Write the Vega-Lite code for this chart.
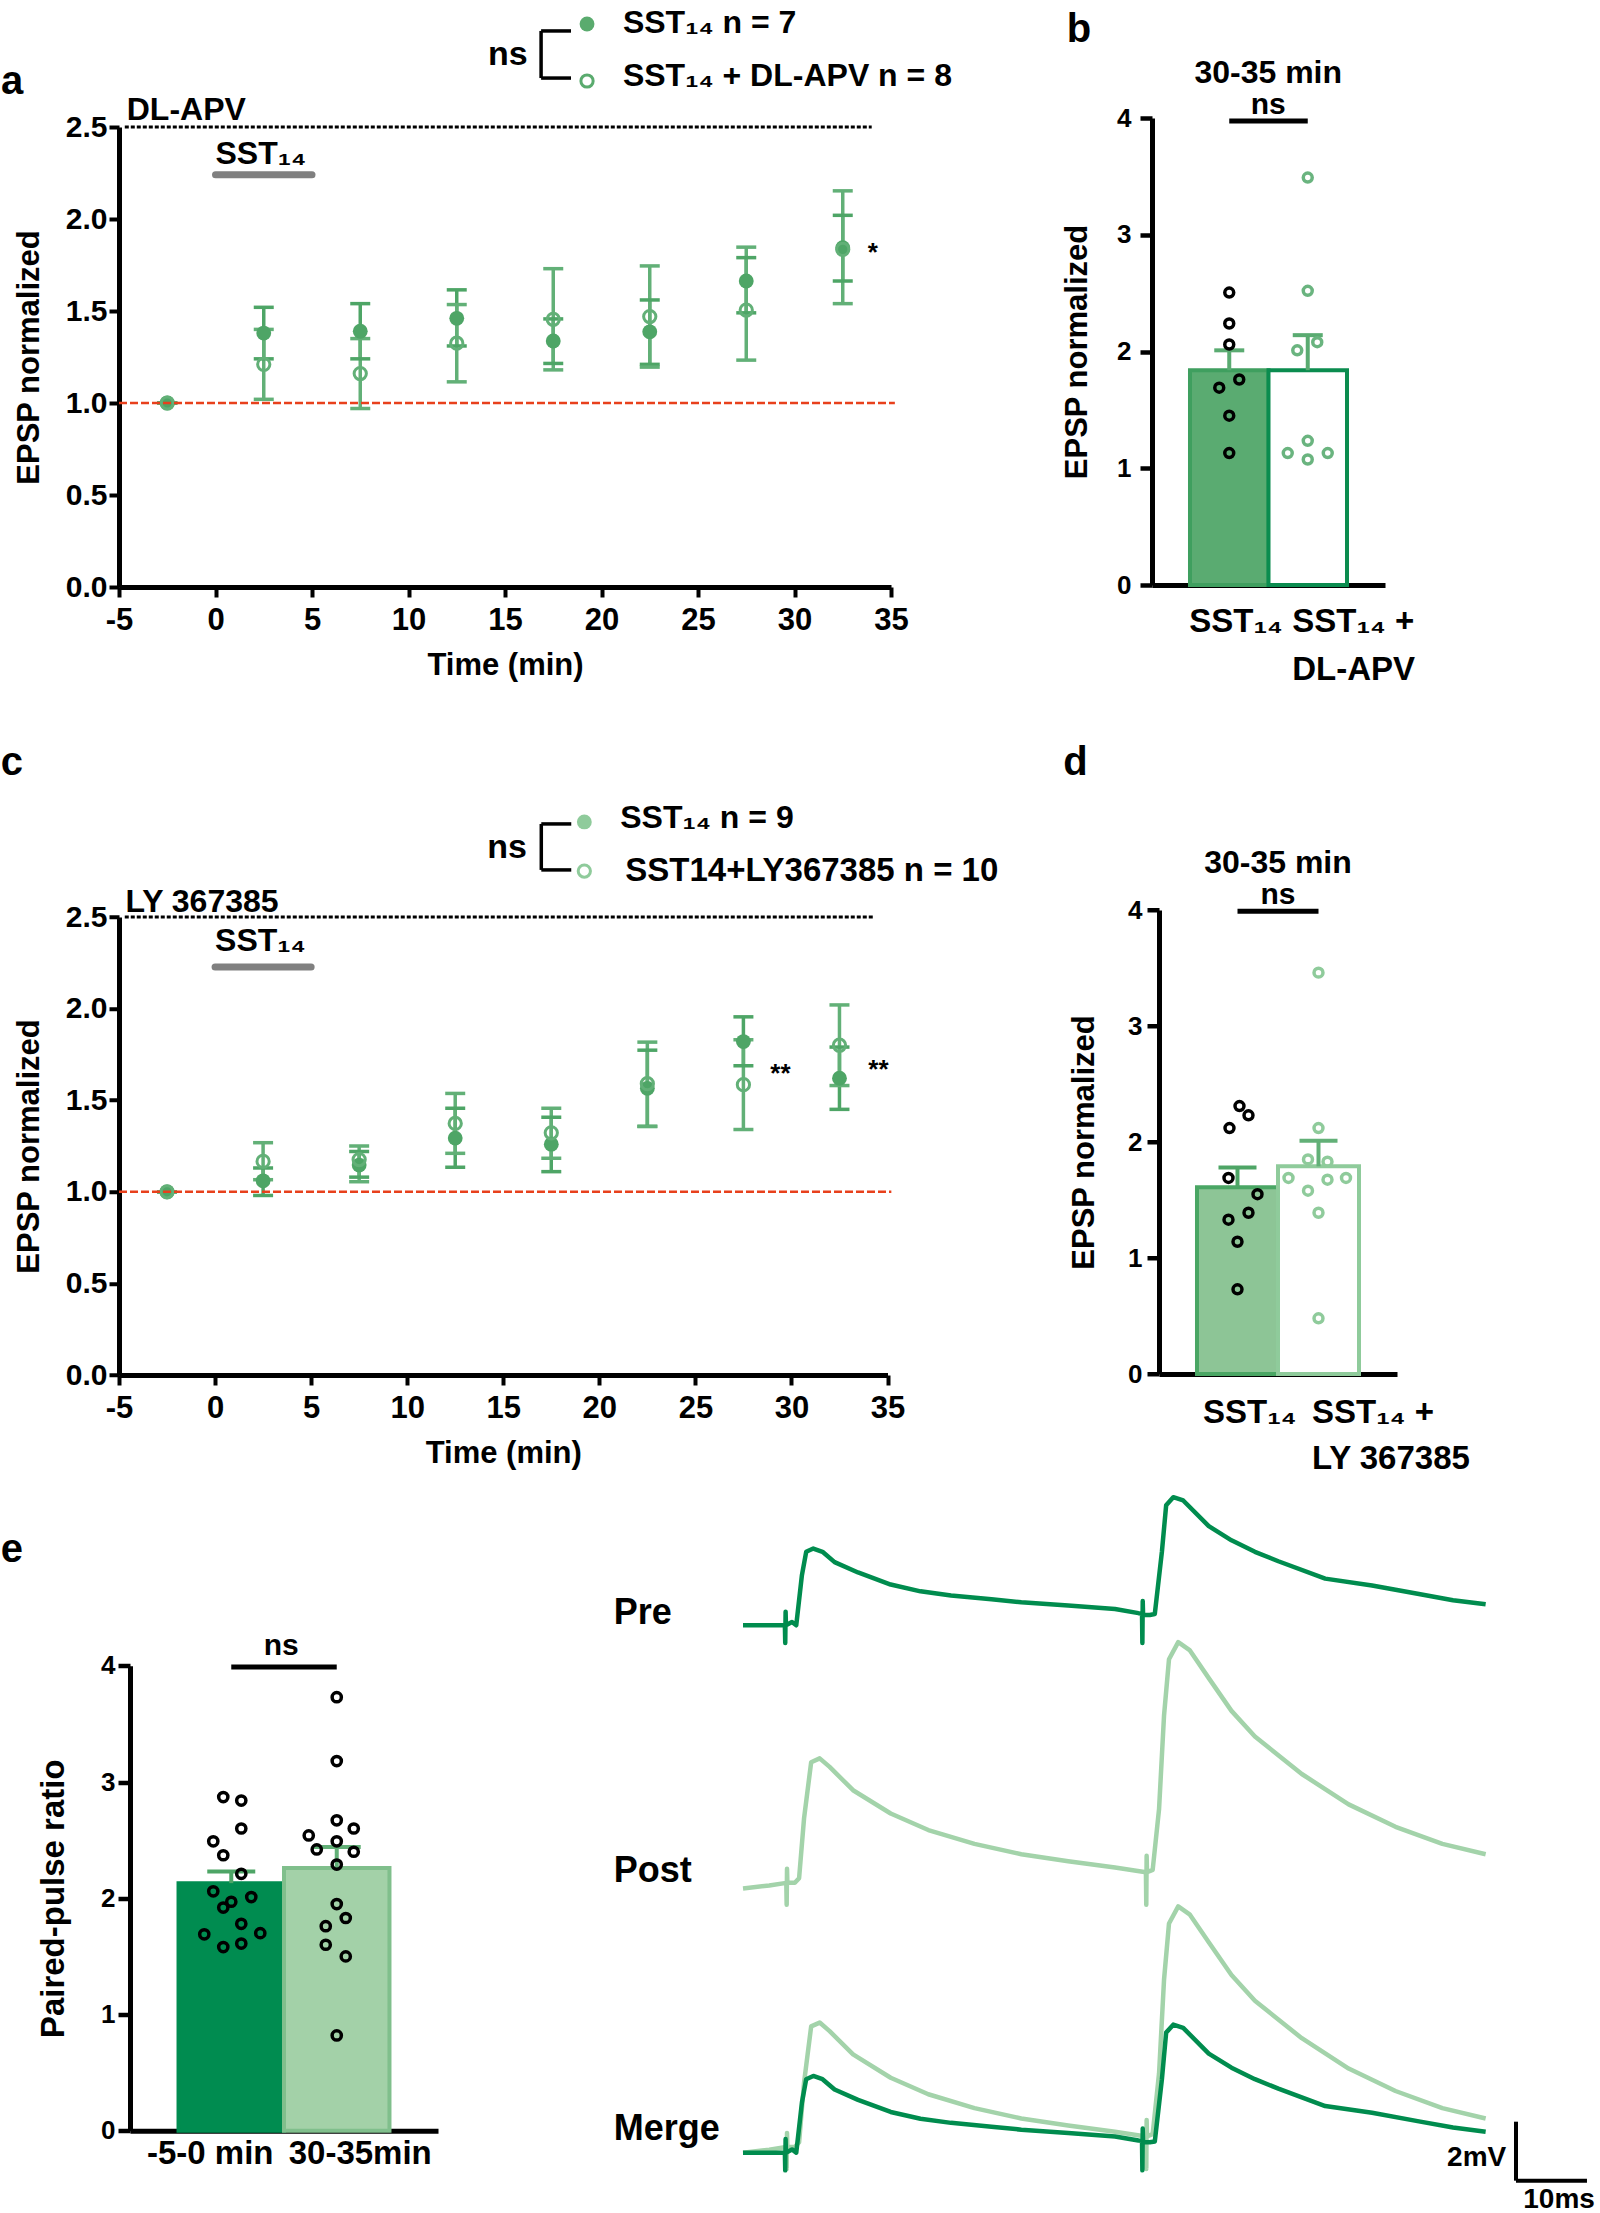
{
  "$schema": "https://vega.github.io/schema/vega-lite/v6.json",
  "background": "white",
  "padding": {"left": 0, "top": 6, "right": 0, "bottom": 0},
  "config": {
    "font": "Liberation Sans",
    "view": {"stroke": null},
    "axis": {"labelFont": "Liberation Sans", "titleFont": "Liberation Sans", "labelFontWeight": "bold", "titleFontWeight": "bold", "labelColor": "black", "titleColor": "black", "domainColor": "black", "tickColor": "black", "grid": false},
    "text": {"font": "Liberation Sans", "fontWeight": "bold", "color": "black"}
  },
  "datasets": {
    "a_ts": [
      {"t": -2.5, "g": "f", "m": 1.0, "lo": 1.0, "hi": 1.0},
      {"t": -2.5, "g": "o", "m": 1.0, "lo": 1.0, "hi": 1.0},
      {"t": 2.5, "g": "f", "m": 1.38, "lo": 1.24, "hi": 1.52},
      {"t": 2.5, "g": "o", "m": 1.21, "lo": 1.02, "hi": 1.40},
      {"t": 7.5, "g": "f", "m": 1.39, "lo": 1.24, "hi": 1.54},
      {"t": 7.5, "g": "o", "m": 1.16, "lo": 0.97, "hi": 1.35},
      {"t": 12.5, "g": "f", "m": 1.46, "lo": 1.31, "hi": 1.615},
      {"t": 12.5, "g": "o", "m": 1.325, "lo": 1.115, "hi": 1.535},
      {"t": 17.5, "g": "f", "m": 1.337, "lo": 1.215, "hi": 1.457},
      {"t": 17.5, "g": "o", "m": 1.455, "lo": 1.18, "hi": 1.73},
      {"t": 22.5, "g": "f", "m": 1.387, "lo": 1.21, "hi": 1.56},
      {"t": 22.5, "g": "o", "m": 1.47, "lo": 1.195, "hi": 1.745},
      {"t": 27.5, "g": "f", "m": 1.663, "lo": 1.49, "hi": 1.79},
      {"t": 27.5, "g": "o", "m": 1.505, "lo": 1.233, "hi": 1.847},
      {"t": 32.5, "g": "f", "m": 1.844, "lo": 1.663, "hi": 2.02},
      {"t": 32.5, "g": "o", "m": 1.835, "lo": 1.54, "hi": 2.153}
    ],
    "c_ts": [
      {"t": -2.5, "g": "f", "m": 1.0, "lo": 1.0, "hi": 1.0},
      {"t": -2.5, "g": "o", "m": 1.0, "lo": 1.0, "hi": 1.0},
      {"t": 2.5, "g": "f", "m": 1.06, "lo": 0.98, "hi": 1.13},
      {"t": 2.5, "g": "o", "m": 1.166, "lo": 1.066, "hi": 1.268},
      {"t": 7.5, "g": "f", "m": 1.146, "lo": 1.08, "hi": 1.22},
      {"t": 7.5, "g": "o", "m": 1.176, "lo": 1.055, "hi": 1.25},
      {"t": 12.5, "g": "f", "m": 1.293, "lo": 1.134, "hi": 1.456},
      {"t": 12.5, "g": "o", "m": 1.373, "lo": 1.21, "hi": 1.537},
      {"t": 17.5, "g": "f", "m": 1.26, "lo": 1.11, "hi": 1.407},
      {"t": 17.5, "g": "o", "m": 1.322, "lo": 1.183, "hi": 1.456},
      {"t": 22.5, "g": "f", "m": 1.565, "lo": 1.357, "hi": 1.773},
      {"t": 22.5, "g": "o", "m": 1.59, "lo": 1.357, "hi": 1.817},
      {"t": 27.5, "g": "f", "m": 1.82, "lo": 1.688, "hi": 1.955},
      {"t": 27.5, "g": "o", "m": 1.585, "lo": 1.34, "hi": 1.83},
      {"t": 32.5, "g": "f", "m": 1.62, "lo": 1.45, "hi": 1.79},
      {"t": 32.5, "g": "o", "m": 1.80, "lo": 1.58, "hi": 2.02}
    ],
    "b_bar": [{"cat": "b1", "m": 1.84, "hi": 2.01}, {"cat": "b2", "m": 1.84, "hi": 2.14}],
    "b_pts": [
      {"cat": "b1", "v": 2.505, "j": 0}, {"cat": "b1", "v": 2.24, "j": 0}, {"cat": "b1", "v": 2.06, "j": 0},
      {"cat": "b1", "v": 1.76, "j": 1}, {"cat": "b1", "v": 1.69, "j": -1}, {"cat": "b1", "v": 1.45, "j": 0},
      {"cat": "b1", "v": 1.13, "j": 0},
      {"cat": "b2", "v": 3.49, "j": 0}, {"cat": "b2", "v": 2.52, "j": 0}, {"cat": "b2", "v": 2.08, "j": 0.95},
      {"cat": "b2", "v": 2.01, "j": -1.05}, {"cat": "b2", "v": 1.235, "j": 0}, {"cat": "b2", "v": 1.13, "j": -2},
      {"cat": "b2", "v": 1.13, "j": 2}, {"cat": "b2", "v": 1.075, "j": 0}
    ],
    "d_bar": [{"cat": "d1", "m": 1.61, "hi": 1.78}, {"cat": "d2", "m": 1.79, "hi": 2.01}],
    "d_pts": [
      {"cat": "d1", "v": 2.31, "j": 0.2}, {"cat": "d1", "v": 2.23, "j": 1.1}, {"cat": "d1", "v": 2.12, "j": -0.8},
      {"cat": "d1", "v": 1.69, "j": -0.9}, {"cat": "d1", "v": 1.55, "j": 2.0}, {"cat": "d1", "v": 1.39, "j": 1.1},
      {"cat": "d1", "v": 1.33, "j": -0.9}, {"cat": "d1", "v": 1.14, "j": 0}, {"cat": "d1", "v": 0.73, "j": 0},
      {"cat": "d2", "v": 3.46, "j": 0}, {"cat": "d2", "v": 2.12, "j": 0}, {"cat": "d2", "v": 1.85, "j": -1.05},
      {"cat": "d2", "v": 1.83, "j": 0.9}, {"cat": "d2", "v": 1.69, "j": -3.0}, {"cat": "d2", "v": 1.69, "j": 2.75},
      {"cat": "d2", "v": 1.675, "j": 0.9}, {"cat": "d2", "v": 1.58, "j": -1.05}, {"cat": "d2", "v": 1.39, "j": 0},
      {"cat": "d2", "v": 0.48, "j": 0}
    ],
    "e_bar": [{"cat": "e1", "m": 2.13, "hi": 2.23}, {"cat": "e2", "m": 2.26, "hi": 2.44}],
    "e_pts": [
      {"cat": "e1", "v": 2.87, "j": -0.8}, {"cat": "e1", "v": 2.84, "j": 1.0}, {"cat": "e1", "v": 2.60, "j": 1.0},
      {"cat": "e1", "v": 2.49, "j": -1.8}, {"cat": "e1", "v": 2.37, "j": -0.8}, {"cat": "e1", "v": 2.21, "j": 1.0},
      {"cat": "e1", "v": 2.06, "j": -1.8}, {"cat": "e1", "v": 2.01, "j": 2.0}, {"cat": "e1", "v": 1.97, "j": 0},
      {"cat": "e1", "v": 1.92, "j": -0.8}, {"cat": "e1", "v": 1.78, "j": 1.0}, {"cat": "e1", "v": 1.69, "j": -2.7},
      {"cat": "e1", "v": 1.70, "j": 2.9}, {"cat": "e1", "v": 1.58, "j": -0.8}, {"cat": "e1", "v": 1.61, "j": 1.0},
      {"cat": "e2", "v": 3.73, "j": 0}, {"cat": "e2", "v": 3.18, "j": 0}, {"cat": "e2", "v": 2.67, "j": 0},
      {"cat": "e2", "v": 2.54, "j": -2.8}, {"cat": "e2", "v": 2.60, "j": 1.7}, {"cat": "e2", "v": 2.49, "j": 0},
      {"cat": "e2", "v": 2.42, "j": -2.0}, {"cat": "e2", "v": 2.40, "j": 1.7}, {"cat": "e2", "v": 2.29, "j": 0},
      {"cat": "e2", "v": 1.95, "j": 0}, {"cat": "e2", "v": 1.83, "j": 0.9}, {"cat": "e2", "v": 1.76, "j": -1.1},
      {"cat": "e2", "v": 1.60, "j": -1.1}, {"cat": "e2", "v": 1.50, "j": 0.9}, {"cat": "e2", "v": 0.82, "j": 0}
    ],
    "pre": [
      {"t": 0, "v": 0}, {"t": 5.6, "v": 0}, {"t": 5.9, "v": 0}, {"t": 5.95, "v": -0.6}, {"t": 6.0, "v": 0.46},
      {"t": 6.05, "v": 0.0}, {"t": 6.9, "v": 0.11}, {"t": 7.5, "v": 0.0}, {"t": 8.3, "v": 1.7}, {"t": 8.9, "v": 2.49},
      {"t": 9.9, "v": 2.6}, {"t": 11.2, "v": 2.49}, {"t": 12.9, "v": 2.14}, {"t": 16.2, "v": 1.79}, {"t": 20.8, "v": 1.38},
      {"t": 25, "v": 1.15}, {"t": 29.3, "v": 1.01}, {"t": 35, "v": 0.88}, {"t": 39.2, "v": 0.78}, {"t": 45.8, "v": 0.67},
      {"t": 52.4, "v": 0.55}, {"t": 55.7, "v": 0.41}, {"t": 56.2, "v": 0.4}, {"t": 56.25, "v": -0.6}, {"t": 56.3, "v": 0.82},
      {"t": 56.35, "v": 0.35}, {"t": 57.3, "v": 0.35}, {"t": 58.0, "v": 0.38}, {"t": 59.0, "v": 2.49}, {"t": 59.6, "v": 4.07},
      {"t": 60.6, "v": 4.34}, {"t": 62.0, "v": 4.23}, {"t": 65.6, "v": 3.36}, {"t": 68.8, "v": 2.88}, {"t": 72.1, "v": 2.49},
      {"t": 75.4, "v": 2.17}, {"t": 82.0, "v": 1.58}, {"t": 88.6, "v": 1.35}, {"t": 95.2, "v": 1.06}, {"t": 100, "v": 0.85},
      {"t": 104.6, "v": 0.71}
    ],
    "post": [
      {"t": 0, "v": 0}, {"t": 3.7, "v": 0.1}, {"t": 6.1, "v": 0.19}, {"t": 6.15, "v": -0.55}, {"t": 6.2, "v": 0.67},
      {"t": 6.25, "v": 0.19}, {"t": 7.3, "v": 0.19}, {"t": 7.9, "v": 0.35}, {"t": 8.6, "v": 2.38}, {"t": 9.6, "v": 4.28},
      {"t": 10.8, "v": 4.41}, {"t": 12.2, "v": 4.12}, {"t": 15.5, "v": 3.33}, {"t": 20.8, "v": 2.54}, {"t": 26.1, "v": 1.98},
      {"t": 32.6, "v": 1.51}, {"t": 39.2, "v": 1.16}, {"t": 45.8, "v": 0.92}, {"t": 52.4, "v": 0.71}, {"t": 56.75, "v": 0.55},
      {"t": 56.8, "v": -0.55}, {"t": 56.85, "v": 1.11}, {"t": 56.9, "v": 0.55}, {"t": 57.7, "v": 0.63}, {"t": 58.6, "v": 2.69},
      {"t": 59.3, "v": 5.86}, {"t": 60.0, "v": 7.77}, {"t": 61.3, "v": 8.35}, {"t": 62.9, "v": 8.08}, {"t": 65.6, "v": 7.13},
      {"t": 68.8, "v": 6.02}, {"t": 72.1, "v": 5.15}, {"t": 78.7, "v": 3.88}, {"t": 85.3, "v": 2.85}, {"t": 91.9, "v": 2.09},
      {"t": 98.5, "v": 1.51}, {"t": 104.6, "v": 1.16}
    ]
  },
  "columns": 2,
  "align": "each",
  "bounds": "flush",
  "spacing": {"row": 116.75, "column": 261},
  "concat": [
    {
      "width": 772,
      "height": 469,
      "layer": [
        {"data": {"name": "a_ts"}, "mark": {"type": "rule", "strokeWidth": 3.5},
         "encoding": {
           "x": {"field": "t", "type": "quantitative", "scale": {"domain": [-5, 35], "nice": false, "zero": false},
             "axis": {"title": "Time (min)", "values": [-5, 0, 5, 10, 15, 20, 25, 30, 35], "labelExpr": "'' + datum.value", "labelFlush": false, "labelOverlap": false, "tickSize": 10, "tickWidth": 4, "domainWidth": 5, "labelFontSize": 31, "labelPadding": 8, "titleFontSize": 31, "titlePadding": 15}},
           "y": {"field": "lo", "type": "quantitative", "scale": {"domain": [0, 2.5], "range": [469, 9], "nice": false, "zero": false},
             "axis": {"title": "EPSP normalized", "values": [0, 0.5, 1, 1.5, 2, 2.5], "format": ".1f", "tickSize": 10, "tickWidth": 4, "domainWidth": 5, "labelFontSize": 30, "labelPadding": 2, "titleFontSize": 31, "titlePadding": 20}},
           "y2": {"field": "hi"},
           "color": {"field": "g", "type": "nominal", "scale": {"domain": ["f", "o"], "range": ["#4ea566", "#62b077"]}, "legend": null}}},
        {"data": {"name": "a_ts"}, "mark": {"type": "tick", "orient": "horizontal", "size": 20, "thickness": 3.5, "opacity": 1},
         "encoding": {"x": {"field": "t", "type": "quantitative"}, "y": {"field": "lo", "type": "quantitative"}, "color": {"field": "g", "type": "nominal", "legend": null}}},
        {"data": {"name": "a_ts"}, "mark": {"type": "tick", "orient": "horizontal", "size": 20, "thickness": 3.5, "opacity": 1},
         "encoding": {"x": {"field": "t", "type": "quantitative"}, "y": {"field": "hi", "type": "quantitative"}, "color": {"field": "g", "type": "nominal", "legend": null}}},
        {"data": {"name": "a_ts"}, "transform": [{"filter": "datum.g === 'f'"}],
         "mark": {"type": "point", "shape": "circle", "filled": true, "size": 220, "opacity": 1},
         "encoding": {"x": {"field": "t", "type": "quantitative"}, "y": {"field": "m", "type": "quantitative"}, "color": {"field": "g", "type": "nominal", "legend": null}}},
        {"data": {"name": "a_ts"}, "transform": [{"filter": "datum.g === 'o'"}],
         "mark": {"type": "point", "shape": "circle", "filled": false, "size": 150, "strokeWidth": 3, "opacity": 1},
         "encoding": {"x": {"field": "t", "type": "quantitative"}, "y": {"field": "m", "type": "quantitative"}, "color": {"field": "g", "type": "nominal", "legend": null}}},
        {"data": {"values": [{}]}, "mark": {"type": "rule", "color": "#e8401c", "strokeWidth": 2.5, "strokeDash": [8, 3]},
         "encoding": {"x": {"datum": -5, "type": "quantitative"}, "x2": {"datum": 35.2}, "y": {"datum": 1, "type": "quantitative"}}},
        {"data": {"values": [{}]}, "mark": {"type": "rule", "color": "black", "strokeWidth": 3, "strokeDash": [4, 2]},
         "encoding": {"x": {"datum": -4.7, "type": "quantitative"}, "x2": {"datum": 34.0}, "y": {"datum": 2.5, "type": "quantitative"}}},
        {"data": {"values": [{}]}, "mark": {"type": "rule", "color": "#808080", "strokeWidth": 7, "strokeCap": "round"},
         "encoding": {"x": {"datum": 0, "type": "quantitative"}, "x2": {"datum": 5}, "y": {"datum": 2.24, "type": "quantitative"}}},
        {"data": {"values": [{}]}, "mark": {"type": "rule", "color": "black", "strokeWidth": 3.5},
         "encoding": {"x": {"datum": 16.87, "type": "quantitative"}, "y": {"datum": 2.766, "type": "quantitative"}, "y2": {"datum": 3.022}}},
        {"data": {"values": [{}]}, "mark": {"type": "rule", "color": "black", "strokeWidth": 3.5},
         "encoding": {"x": {"datum": 16.87, "type": "quantitative"}, "x2": {"datum": 18.42}, "y": {"datum": 3.022, "type": "quantitative"}}},
        {"data": {"values": [{}]}, "mark": {"type": "rule", "color": "black", "strokeWidth": 3.5},
         "encoding": {"x": {"datum": 16.87, "type": "quantitative"}, "x2": {"datum": 18.42}, "y": {"datum": 2.766, "type": "quantitative"}}},
        {"data": {"values": [{}]}, "mark": {"type": "point", "shape": "circle", "filled": true, "size": 220, "opacity": 1, "color": "#5aab6e"},
         "encoding": {"x": {"datum": 19.25, "type": "quantitative"}, "y": {"datum": 3.06, "type": "quantitative"}}},
        {"data": {"values": [{}]}, "mark": {"type": "point", "shape": "circle", "filled": false, "size": 150, "strokeWidth": 3, "opacity": 1, "color": "#5aab6e"},
         "encoding": {"x": {"datum": 19.25, "type": "quantitative"}, "y": {"datum": 2.75, "type": "quantitative"}}},
        {"data": {"values": [{}]}, "mark": {"type": "text", "text": "ns", "align": "left", "baseline": "alphabetic", "fontSize": 34},
         "encoding": {"x": {"datum": 14.12, "type": "quantitative"}, "y": {"datum": 2.837, "type": "quantitative"}}},
        {"data": {"values": [{}]}, "mark": {"type": "text", "text": "SST₁₄  n = 7", "align": "left", "baseline": "alphabetic", "fontSize": 32},
         "encoding": {"x": {"datum": 21.11, "type": "quantitative"}, "y": {"datum": 3.011, "type": "quantitative"}}},
        {"data": {"values": [{}]}, "mark": {"type": "text", "text": "SST₁₄ + DL-APV n = 8", "align": "left", "baseline": "alphabetic", "fontSize": 32},
         "encoding": {"x": {"datum": 21.11, "type": "quantitative"}, "y": {"datum": 2.723, "type": "quantitative"}}},
        {"data": {"values": [{}]}, "mark": {"type": "text", "text": "DL-APV", "align": "left", "baseline": "alphabetic", "fontSize": 32},
         "encoding": {"x": {"datum": -4.6, "type": "quantitative"}, "y": {"datum": 2.54, "type": "quantitative"}}},
        {"data": {"values": [{}]}, "mark": {"type": "text", "text": "SST₁₄", "align": "left", "baseline": "alphabetic", "fontSize": 32},
         "encoding": {"x": {"datum": 0, "type": "quantitative"}, "y": {"datum": 2.30, "type": "quantitative"}}},
        {"data": {"values": [{}]}, "mark": {"type": "text", "text": "*", "align": "left", "baseline": "alphabetic", "fontSize": 26},
         "encoding": {"x": {"datum": 33.8, "type": "quantitative"}, "y": {"datum": 1.77, "type": "quantitative"}}},
        {"data": {"values": [{}]}, "mark": {"type": "text", "text": "a", "align": "left", "baseline": "alphabetic", "fontSize": 40},
         "encoding": {"x": {"datum": -11.11, "type": "quantitative"}, "y": {"datum": 2.68, "type": "quantitative"}}},
        {"data": {"values": [{}]}, "mark": {"type": "text", "text": "b", "align": "left", "baseline": "alphabetic", "fontSize": 40},
         "encoding": {"x": {"datum": 44.1, "type": "quantitative"}, "y": {"datum": 2.962, "type": "quantitative"}}}
      ]
    },
    {
      "width": 233,
      "height": 467,
      "resolve": {"scale": {"fill": "independent", "stroke": "independent", "xOffset": "independent"}},
      "layer": [
        {"data": {"name": "b_bar"}, "mark": {"type": "bar", "strokeWidth": 4, "opacity": 1},
         "encoding": {
           "x": {"field": "cat", "type": "nominal", "sort": null, "scale": {"domain": ["b1", "b2"], "paddingInner": 0, "paddingOuter": 0.484},
             "axis": {"title": null, "ticks": false, "labels": false, "domainWidth": 5}},
           "y": {"field": "m", "type": "quantitative", "scale": {"domain": [0, 4], "nice": false},
             "axis": {"title": "EPSP normalized", "values": [0, 1, 2, 3, 4], "format": "d", "tickSize": 12, "tickWidth": 4.5, "domainWidth": 5, "labelFontSize": 26, "labelPadding": 9, "titleFontSize": 31, "titlePadding": 23}},
           "fill": {"field": "cat", "type": "nominal", "scale": {"domain": ["b1", "b2"], "range": ["#5aab71", "#ffffff"]}, "legend": null},
           "stroke": {"field": "cat", "type": "nominal", "scale": {"domain": ["b1", "b2"], "range": ["#3f9f5f", "#0b8c4f"]}, "legend": null}}},
        {"data": {"name": "b_bar"}, "mark": {"type": "rule", "strokeWidth": 4, "color": "#5aab71"},
         "encoding": {"x": {"field": "cat", "type": "nominal"}, "y": {"field": "m", "type": "quantitative"}, "y2": {"field": "hi"}}},
        {"data": {"name": "b_bar"}, "mark": {"type": "tick", "orient": "horizontal", "size": 30, "thickness": 4, "color": "#5aab71", "opacity": 1},
         "encoding": {"x": {"field": "cat", "type": "nominal"}, "y": {"field": "hi", "type": "quantitative"}}},
        {"data": {"name": "b_pts"}, "mark": {"type": "point", "shape": "circle", "filled": false, "size": 80, "strokeWidth": 3.5, "opacity": 1},
         "encoding": {"x": {"field": "cat", "type": "nominal"},
           "xOffset": {"field": "j", "type": "quantitative", "scale": {"domain": [-3, 3], "range": [9.25, 69.25]}},
           "y": {"field": "v", "type": "quantitative"},
           "stroke": {"field": "cat", "type": "nominal", "scale": {"domain": ["b1", "b2"], "range": ["#000000", "#6ab47f"]}, "legend": null}}},
        {"data": {"values": [{}]}, "mark": {"type": "rule", "strokeWidth": 5, "color": "black"},
         "encoding": {"x": {"datum": "b1", "type": "nominal"}, "x2": {"datum": "b2"}, "y": {"datum": 3.975, "type": "quantitative"}}},
        {"data": {"values": [{}]}, "mark": {"type": "text", "text": "ns", "align": "center", "baseline": "alphabetic", "fontSize": 30, "dx": 39},
         "encoding": {"x": {"datum": "b1", "type": "nominal"}, "y": {"datum": 4.03, "type": "quantitative"}}},
        {"data": {"values": [{}]}, "mark": {"type": "text", "text": "30-35 min", "align": "center", "baseline": "alphabetic", "fontSize": 32, "dx": 39},
         "encoding": {"x": {"datum": "b1", "type": "nominal"}, "y": {"datum": 4.296, "type": "quantitative"}}},
        {"data": {"values": [{}]}, "mark": {"type": "text", "text": "SST₁₄", "align": "left", "baseline": "top", "fontSize": 33, "dx": -40},
         "encoding": {"x": {"datum": "b1", "type": "nominal"}, "y": {"datum": -0.176, "type": "quantitative"}}},
        {"data": {"values": [{}]}, "mark": {"type": "text", "text": "SST₁₄ +\nDL-APV", "lineBreak": "\n", "lineHeight": 48, "align": "left", "baseline": "top", "fontSize": 33, "dx": -15.5},
         "encoding": {"x": {"datum": "b2", "type": "nominal"}, "y": {"datum": -0.176, "type": "quantitative"}}}
      ]
    },
    {
      "width": 768.5,
      "height": 671.25,
      "layer": [
        {"data": {"name": "c_ts"}, "mark": {"type": "rule", "strokeWidth": 3.5},
         "encoding": {
           "x": {"field": "t", "type": "quantitative", "scale": {"domain": [-5, 35], "nice": false, "zero": false},
             "axis": {"title": "Time (min)", "values": [-5, 0, 5, 10, 15, 20, 25, 30, 35], "labelExpr": "'' + datum.value", "labelFlush": false, "labelOverlap": false, "tickSize": 10, "tickWidth": 4, "domainWidth": 5, "labelFontSize": 31, "labelPadding": 8, "titleFontSize": 31, "titlePadding": 15}},
           "y": {"field": "lo", "type": "quantitative", "scale": {"domain": [0, 2.5], "range": [671.25, 213.25], "nice": false, "zero": false},
             "axis": {"title": "EPSP normalized", "values": [0, 0.5, 1, 1.5, 2, 2.5], "format": ".1f", "tickSize": 10, "tickWidth": 4, "domainWidth": 5, "labelFontSize": 30, "labelPadding": 2, "titleFontSize": 31, "titlePadding": 20}},
           "y2": {"field": "hi"},
           "color": {"field": "g", "type": "nominal", "scale": {"domain": ["f", "o"], "range": ["#4fa96a", "#8fcb9b"]}, "legend": null}}},
        {"data": {"name": "c_ts"}, "mark": {"type": "tick", "orient": "horizontal", "size": 20, "thickness": 3.5, "opacity": 1},
         "encoding": {"x": {"field": "t", "type": "quantitative"}, "y": {"field": "lo", "type": "quantitative"}, "color": {"field": "g", "type": "nominal", "legend": null}}},
        {"data": {"name": "c_ts"}, "mark": {"type": "tick", "orient": "horizontal", "size": 20, "thickness": 3.5, "opacity": 1},
         "encoding": {"x": {"field": "t", "type": "quantitative"}, "y": {"field": "hi", "type": "quantitative"}, "color": {"field": "g", "type": "nominal", "legend": null}}},
        {"data": {"name": "c_ts"}, "transform": [{"filter": "datum.g === 'f'"}],
         "mark": {"type": "point", "shape": "circle", "filled": true, "size": 220, "opacity": 1},
         "encoding": {"x": {"field": "t", "type": "quantitative"}, "y": {"field": "m", "type": "quantitative"}, "color": {"field": "g", "type": "nominal", "legend": null}}},
        {"data": {"name": "c_ts"}, "transform": [{"filter": "datum.g === 'o'"}],
         "mark": {"type": "point", "shape": "circle", "filled": false, "size": 150, "strokeWidth": 3, "opacity": 1},
         "encoding": {"x": {"field": "t", "type": "quantitative"}, "y": {"field": "m", "type": "quantitative"}, "color": {"field": "g", "type": "nominal", "legend": null}}},
        {"data": {"values": [{}]}, "mark": {"type": "rule", "color": "#e8401c", "strokeWidth": 2.5, "strokeDash": [8, 3]},
         "encoding": {"x": {"datum": -5, "type": "quantitative"}, "x2": {"datum": 35.2}, "y": {"datum": 1, "type": "quantitative"}}},
        {"data": {"values": [{}]}, "mark": {"type": "rule", "color": "black", "strokeWidth": 3, "strokeDash": [4, 2]},
         "encoding": {"x": {"datum": -4.7, "type": "quantitative"}, "x2": {"datum": 34.3}, "y": {"datum": 2.5, "type": "quantitative"}}},
        {"data": {"values": [{}]}, "mark": {"type": "rule", "color": "#808080", "strokeWidth": 7, "strokeCap": "round"},
         "encoding": {"x": {"datum": 0, "type": "quantitative"}, "x2": {"datum": 5}, "y": {"datum": 2.227, "type": "quantitative"}}},
        {"data": {"values": [{}]}, "mark": {"type": "rule", "color": "black", "strokeWidth": 3.5},
         "encoding": {"x": {"datum": 16.98, "type": "quantitative"}, "y": {"datum": 2.757, "type": "quantitative"}, "y2": {"datum": 3.008}}},
        {"data": {"values": [{}]}, "mark": {"type": "rule", "color": "black", "strokeWidth": 3.5},
         "encoding": {"x": {"datum": 16.98, "type": "quantitative"}, "x2": {"datum": 18.54}, "y": {"datum": 3.008, "type": "quantitative"}}},
        {"data": {"values": [{}]}, "mark": {"type": "rule", "color": "black", "strokeWidth": 3.5},
         "encoding": {"x": {"datum": 16.98, "type": "quantitative"}, "x2": {"datum": 18.54}, "y": {"datum": 2.757, "type": "quantitative"}}},
        {"data": {"values": [{}]}, "mark": {"type": "point", "shape": "circle", "filled": true, "size": 220, "opacity": 1, "color": "#8fcb9b"},
         "encoding": {"x": {"datum": 19.22, "type": "quantitative"}, "y": {"datum": 3.019, "type": "quantitative"}}},
        {"data": {"values": [{}]}, "mark": {"type": "point", "shape": "circle", "filled": false, "size": 150, "strokeWidth": 3, "opacity": 1, "color": "#8fcb9b"},
         "encoding": {"x": {"datum": 19.22, "type": "quantitative"}, "y": {"datum": 2.751, "type": "quantitative"}}},
        {"data": {"values": [{}]}, "mark": {"type": "text", "text": "ns", "align": "left", "baseline": "alphabetic", "fontSize": 34},
         "encoding": {"x": {"datum": 14.17, "type": "quantitative"}, "y": {"datum": 2.822, "type": "quantitative"}}},
        {"data": {"values": [{}]}, "mark": {"type": "text", "text": "SST₁₄  n = 9", "align": "left", "baseline": "alphabetic", "fontSize": 32},
         "encoding": {"x": {"datum": 21.09, "type": "quantitative"}, "y": {"datum": 2.986, "type": "quantitative"}}},
        {"data": {"values": [{}]}, "mark": {"type": "text", "text": "SST14+LY367385 n = 10", "align": "left", "baseline": "alphabetic", "fontSize": 33},
         "encoding": {"x": {"datum": 21.35, "type": "quantitative"}, "y": {"datum": 2.697, "type": "quantitative"}}},
        {"data": {"values": [{}]}, "mark": {"type": "text", "text": "LY 367385", "align": "left", "baseline": "alphabetic", "fontSize": 32},
         "encoding": {"x": {"datum": -4.66, "type": "quantitative"}, "y": {"datum": 2.53, "type": "quantitative"}}},
        {"data": {"values": [{}]}, "mark": {"type": "text", "text": "SST₁₄", "align": "left", "baseline": "alphabetic", "fontSize": 32},
         "encoding": {"x": {"datum": 0, "type": "quantitative"}, "y": {"datum": 2.317, "type": "quantitative"}}},
        {"data": {"values": [{}]}, "mark": {"type": "text", "text": "**", "align": "left", "baseline": "alphabetic", "fontSize": 26},
         "encoding": {"x": {"datum": 28.9, "type": "quantitative"}, "y": {"datum": 1.60, "type": "quantitative"}}},
        {"data": {"values": [{}]}, "mark": {"type": "text", "text": "**", "align": "left", "baseline": "alphabetic", "fontSize": 26},
         "encoding": {"x": {"datum": 34.0, "type": "quantitative"}, "y": {"datum": 1.62, "type": "quantitative"}}},
        {"data": {"values": [{}]}, "mark": {"type": "text", "text": "c", "align": "left", "baseline": "alphabetic", "fontSize": 40},
         "encoding": {"x": {"datum": -11.15, "type": "quantitative"}, "y": {"datum": 3.275, "type": "quantitative"}}},
        {"data": {"values": [{}]}, "mark": {"type": "text", "text": "d", "align": "left", "baseline": "alphabetic", "fontSize": 40},
         "encoding": {"x": {"datum": 44.15, "type": "quantitative"}, "y": {"datum": 3.275, "type": "quantitative"}}},
        {"data": {"values": [{}]}, "mark": {"type": "text", "text": "e", "align": "left", "baseline": "alphabetic", "fontSize": 40},
         "encoding": {"x": {"datum": -11.15, "type": "quantitative"}, "y": {"datum": -1.021, "type": "quantitative"}}}
      ]
    },
    {
      "width": 245,
      "height": 670.25,
      "resolve": {"scale": {"fill": "independent", "stroke": "independent", "xOffset": "independent"}},
      "layer": [
        {"data": {"name": "d_bar"}, "mark": {"type": "bar", "strokeWidth": 4, "opacity": 1},
         "encoding": {
           "x": {"field": "cat", "type": "nominal", "sort": null, "scale": {"domain": ["d1", "d2"], "range": [7, 245], "paddingInner": 0, "paddingOuter": 0.469},
             "axis": {"title": null, "ticks": false, "labels": false, "domainWidth": 5}},
           "y": {"field": "m", "type": "quantitative", "scale": {"domain": [0, 4], "range": [670.25, 206.25], "nice": false},
             "axis": {"title": "EPSP normalized", "offset": -7, "values": [0, 1, 2, 3, 4], "format": "d", "tickSize": 12, "tickWidth": 4.5, "domainWidth": 5, "labelFontSize": 26, "labelPadding": 5, "titleFontSize": 31, "titlePadding": 27}},
           "fill": {"field": "cat", "type": "nominal", "scale": {"domain": ["d1", "d2"], "range": ["#8dc596", "#ffffff"]}, "legend": null},
           "stroke": {"field": "cat", "type": "nominal", "scale": {"domain": ["d1", "d2"], "range": ["#4aa664", "#8fcb9b"]}, "legend": null}}},
        {"data": {"name": "d_bar"}, "mark": {"type": "rule", "strokeWidth": 4},
         "encoding": {"x": {"field": "cat", "type": "nominal"}, "y": {"field": "m", "type": "quantitative"}, "y2": {"field": "hi"},
           "color": {"field": "cat", "type": "nominal", "scale": {"domain": ["d1", "d2"], "range": ["#4aa664", "#8fcb9b"]}, "legend": null}}},
        {"data": {"name": "d_bar"}, "mark": {"type": "tick", "orient": "horizontal", "size": 38, "thickness": 4, "opacity": 1},
         "encoding": {"x": {"field": "cat", "type": "nominal"}, "y": {"field": "hi", "type": "quantitative"},
           "color": {"field": "cat", "type": "nominal", "legend": null}}},
        {"data": {"name": "d_pts"}, "mark": {"type": "point", "shape": "circle", "filled": false, "size": 80, "strokeWidth": 3.5, "opacity": 1},
         "encoding": {"x": {"field": "cat", "type": "nominal"},
           "xOffset": {"field": "j", "type": "quantitative", "scale": {"domain": [-3, 3], "range": [10.5, 70.5]}},
           "y": {"field": "v", "type": "quantitative"},
           "stroke": {"field": "cat", "type": "nominal", "scale": {"domain": ["d1", "d2"], "range": ["#000000", "#8fcb9b"]}, "legend": null}}},
        {"data": {"values": [{}]}, "mark": {"type": "rule", "strokeWidth": 5, "color": "black"},
         "encoding": {"x": {"datum": "d1", "type": "nominal"}, "x2": {"datum": "d2"}, "y": {"datum": 3.99, "type": "quantitative"}}},
        {"data": {"values": [{}]}, "mark": {"type": "text", "text": "ns", "align": "center", "baseline": "alphabetic", "fontSize": 30, "dx": 40.5},
         "encoding": {"x": {"datum": "d1", "type": "nominal"}, "y": {"datum": 4.05, "type": "quantitative"}}},
        {"data": {"values": [{}]}, "mark": {"type": "text", "text": "30-35 min", "align": "center", "baseline": "alphabetic", "fontSize": 32, "dx": 40.5},
         "encoding": {"x": {"datum": "d1", "type": "nominal"}, "y": {"datum": 4.32, "type": "quantitative"}}},
        {"data": {"values": [{}]}, "mark": {"type": "text", "text": "SST₁₄", "align": "left", "baseline": "top", "fontSize": 33, "dx": -34.5},
         "encoding": {"x": {"datum": "d1", "type": "nominal"}, "y": {"datum": -0.195, "type": "quantitative"}}},
        {"data": {"values": [{}]}, "mark": {"type": "text", "text": "SST₁₄ +\nLY 367385", "lineBreak": "\n", "lineHeight": 46, "align": "left", "baseline": "top", "fontSize": 33, "dx": -6.5},
         "encoding": {"x": {"datum": "d2", "type": "nominal"}, "y": {"datum": -0.195, "type": "quantitative"}}}
      ]
    },
    {
      "width": 772,
      "height": 638.25,
      "resolve": {"scale": {"x": "independent", "y": "independent"}, "axis": {"x": "independent", "y": "independent"}},
      "layer": [
        {
          "resolve": {"scale": {"fill": "independent", "stroke": "independent", "xOffset": "independent"}},
          "layer": [
            {"data": {"name": "e_bar"}, "mark": {"type": "bar", "strokeWidth": 4, "opacity": 1},
             "encoding": {
               "x": {"field": "cat", "type": "nominal", "sort": null, "scale": {"domain": ["e1", "e2"], "range": [11, 319], "paddingInner": 0, "paddingOuter": 0.46},
                 "axis": {"title": null, "ticks": false, "labels": false, "domainWidth": 5}},
               "y": {"field": "m", "type": "quantitative", "scale": {"domain": [0, 4], "range": [638.25, 173.25], "nice": false},
                 "axis": {"title": "Paired-pulse ratio", "offset": -11, "values": [0, 1, 2, 3, 4], "format": "d", "tickSize": 12, "tickWidth": 4.5, "domainWidth": 5, "labelFontSize": 26, "labelPadding": 3, "titleFontSize": 33, "titlePadding": 30}},
               "fill": {"field": "cat", "type": "nominal", "scale": {"domain": ["e1", "e2"], "range": ["#008c50", "#a3d1a8"]}, "legend": null},
               "stroke": {"field": "cat", "type": "nominal", "scale": {"domain": ["e1", "e2"], "range": ["#008c50", "#80bf8c"]}, "legend": null}}},
            {"data": {"name": "e_bar"}, "mark": {"type": "rule", "strokeWidth": 4},
             "encoding": {"x": {"field": "cat", "type": "nominal"}, "y": {"field": "m", "type": "quantitative"}, "y2": {"field": "hi"},
               "color": {"field": "cat", "type": "nominal", "scale": {"domain": ["e1", "e2"], "range": ["#2e9a62", "#80bf8c"]}, "legend": null}}},
            {"data": {"name": "e_bar"}, "mark": {"type": "tick", "orient": "horizontal", "size": 48, "thickness": 4, "opacity": 1},
             "encoding": {"x": {"field": "cat", "type": "nominal"}, "y": {"field": "hi", "type": "quantitative"},
               "color": {"field": "cat", "type": "nominal", "legend": null}}},
            {"data": {"name": "e_pts"}, "mark": {"type": "point", "shape": "circle", "filled": false, "size": 85, "strokeWidth": 3.5, "opacity": 1, "color": "black"},
             "encoding": {"x": {"field": "cat", "type": "nominal"},
               "xOffset": {"field": "j", "type": "quantitative", "scale": {"domain": [-3, 3], "range": [22.75, 82.75]}},
               "y": {"field": "v", "type": "quantitative"}}},
            {"data": {"values": [{}]}, "mark": {"type": "rule", "strokeWidth": 5, "color": "black"},
             "encoding": {"x": {"datum": "e1", "type": "nominal"}, "x2": {"datum": "e2"}, "y": {"datum": 3.99, "type": "quantitative"}}},
            {"data": {"values": [{}]}, "mark": {"type": "text", "text": "ns", "align": "center", "baseline": "alphabetic", "fontSize": 30, "dx": 50},
             "encoding": {"x": {"datum": "e1", "type": "nominal"}, "y": {"datum": 4.095, "type": "quantitative"}}},
            {"data": {"values": [{}]}, "mark": {"type": "text", "text": "-5-0 min", "align": "center", "baseline": "top", "fontSize": 33, "dx": -21},
             "encoding": {"x": {"datum": "e1", "type": "nominal"}, "y": {"datum": -0.065, "type": "quantitative"}}},
            {"data": {"values": [{}]}, "mark": {"type": "text", "text": "30-35min", "align": "center", "baseline": "top", "fontSize": 33, "dx": 23.5},
             "encoding": {"x": {"datum": "e2", "type": "nominal"}, "y": {"datum": -0.065, "type": "quantitative"}}}
          ]
        },
        {
          "resolve": {"scale": {"y": "independent"}},
          "layer": [
            {
              "layer": [
                {"data": {"name": "pre"}, "mark": {"type": "line", "color": "#008c4e", "strokeWidth": 4.5, "strokeJoin": "round"},
                 "encoding": {"x": {"field": "t", "type": "quantitative", "scale": {"domain": [0, 120], "range": [624, 1476], "nice": false, "zero": false}, "axis": null},
                   "y": {"field": "v", "type": "quantitative", "scale": {"domain": [-0.7, 4.5], "range": [153.4, 0], "nice": false, "zero": false}, "axis": null}}},
                {"data": {"values": [{}]}, "mark": {"type": "text", "text": "Pre", "align": "left", "baseline": "middle", "fontSize": 36},
                 "encoding": {"x": {"datum": -18.2, "type": "quantitative"}, "y": {"datum": 0.42, "type": "quantitative"}}}
              ]
            },
            {
              "layer": [
                {"data": {"name": "post"}, "mark": {"type": "line", "color": "#a3d3aa", "strokeWidth": 4.5, "strokeJoin": "round"},
                 "encoding": {"x": {"field": "t", "type": "quantitative", "axis": null},
                   "y": {"field": "v", "type": "quantitative", "scale": {"domain": [-0.72, 8.222], "range": [417.2, 153.4], "nice": false, "zero": false}, "axis": null}}},
                {"data": {"values": [{}]}, "mark": {"type": "text", "text": "Post", "align": "left", "baseline": "middle", "fontSize": 36},
                 "encoding": {"x": {"datum": -18.2, "type": "quantitative"}, "y": {"datum": 0.6, "type": "quantitative"}}}
              ]
            },
            {
              "layer": [
                {"data": {"name": "post"}, "mark": {"type": "line", "color": "#a3d3aa", "strokeWidth": 4.5, "strokeJoin": "round"},
                 "encoding": {"x": {"field": "t", "type": "quantitative", "axis": null},
                   "y": {"field": "v", "type": "quantitative", "scale": {"domain": [-1.1, 8.237], "range": [692.6, 417.2], "nice": false, "zero": false}, "axis": null}}},
                {"data": {"name": "pre"}, "mark": {"type": "line", "color": "#008c4e", "strokeWidth": 4.5, "strokeJoin": "round"},
                 "encoding": {"x": {"field": "t", "type": "quantitative"}, "y": {"field": "v", "type": "quantitative"}}},
                {"data": {"values": [{}]}, "mark": {"type": "text", "text": "Merge", "align": "left", "baseline": "middle", "fontSize": 36},
                 "encoding": {"x": {"datum": -18.2, "type": "quantitative"}, "y": {"datum": 0.81, "type": "quantitative"}}},
                {"data": {"values": [{}]}, "mark": {"type": "rule", "color": "black", "strokeWidth": 4},
                 "encoding": {"x": {"datum": 108.87, "type": "quantitative"}, "y": {"datum": -0.95, "type": "quantitative"}, "y2": {"datum": 1.05}}},
                {"data": {"values": [{}]}, "mark": {"type": "rule", "color": "black", "strokeWidth": 4},
                 "encoding": {"x": {"datum": 108.87, "type": "quantitative"}, "x2": {"datum": 118.87}, "y": {"datum": -0.95, "type": "quantitative"}}},
                {"data": {"values": [{}]}, "mark": {"type": "text", "text": "2mV", "align": "right", "baseline": "middle", "fontSize": 28},
                 "encoding": {"x": {"datum": 107.5, "type": "quantitative"}, "y": {"datum": -0.17, "type": "quantitative"}}},
                {"data": {"values": [{}]}, "mark": {"type": "text", "text": "10ms", "align": "left", "baseline": "middle", "fontSize": 28},
                 "encoding": {"x": {"datum": 109.9, "type": "quantitative"}, "y": {"datum": -1.6, "type": "quantitative"}}}
              ]
            }
          ]
        }
      ]
    }
  ]
}
